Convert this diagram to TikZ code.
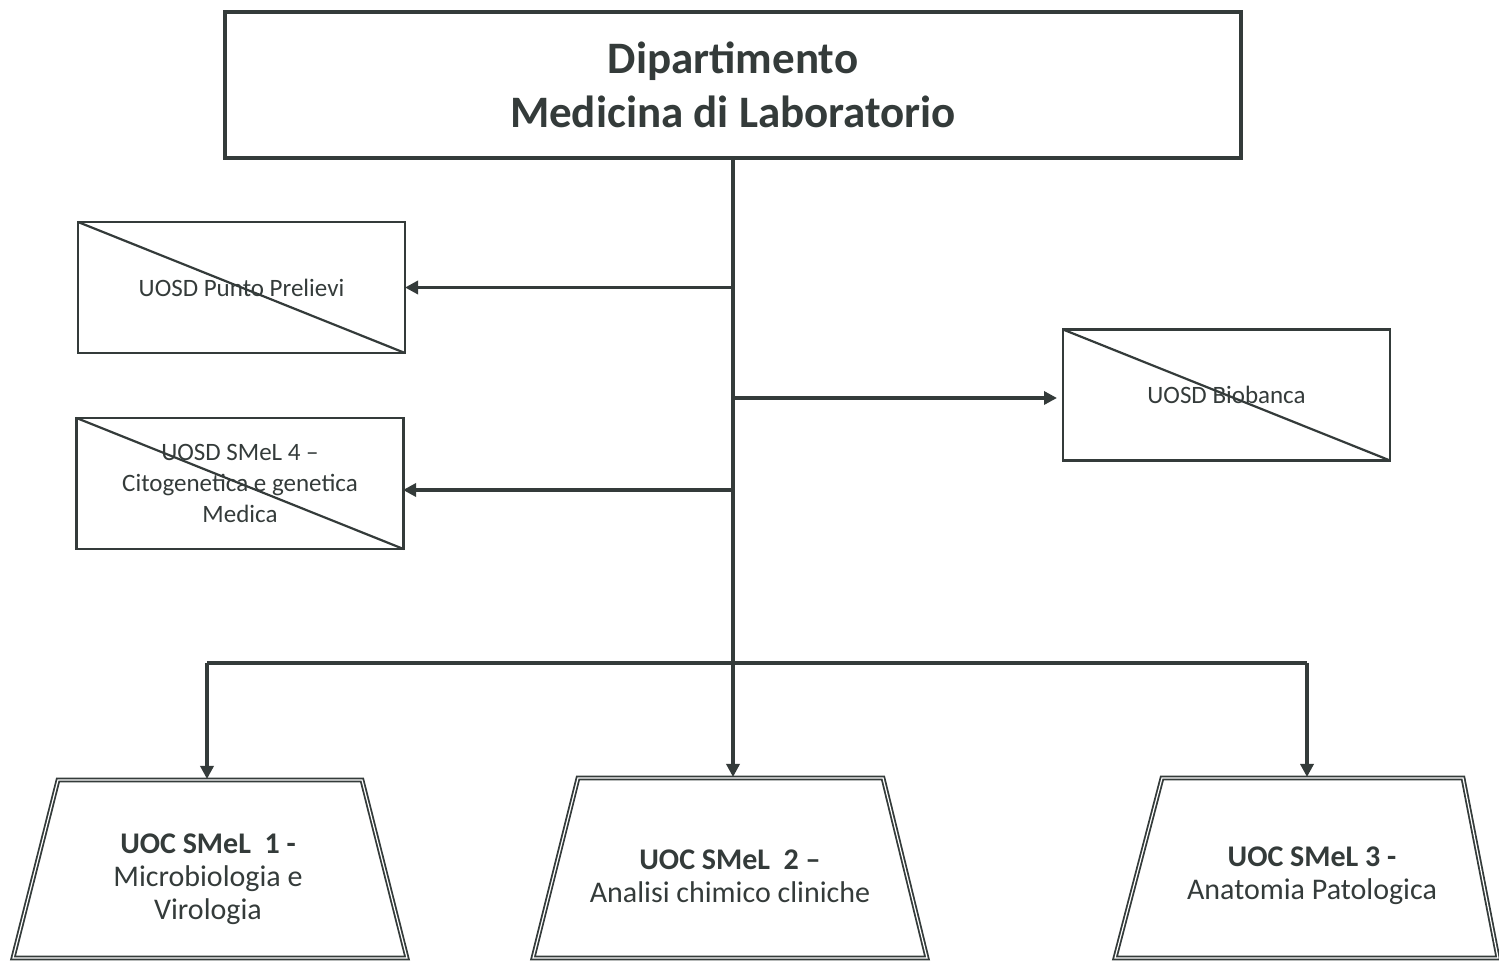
\documentclass[tikz,border=0pt]{standalone}
\usepackage{fontspec}
\setmainfont{Carlito}
\usetikzlibrary{arrows.meta}
\definecolor{ink}{HTML}{343B3A}
\begin{document}
\begin{tikzpicture}[x=0.5pt,y=-0.5pt,
  topbox/.style={draw=ink, line width=1.8pt, outer sep=0pt, inner sep=0pt, align=center, text=ink,
    font=\fontsize{22.5}{27}\selectfont\bfseries},
  ubox/.style={draw=ink, line width=1.4pt, outer sep=0pt, inner sep=0pt, align=center, text=ink,
    minimum width=163.5pt, minimum height=65.5pt, font=\fontsize{12.5}{15.5}\selectfont},
  cross/.style={draw=ink, line width=1.1pt},
  trap/.style={draw=ink, line width=0.9pt, double=white, double distance=0.6pt, line join=miter},
  traptext/.style={align=center, text=ink, inner sep=0pt, font=\fontsize{15}{16.4}\selectfont},
  wire/.style={draw=ink, line width=1.7pt},
  conn/.style={draw=ink, line width=1.7pt, -{Triangle[length=6.5pt,width=6.5pt]}}
]
\useasboundingbox (0,0) rectangle (1499,961);

% top box
\node[topbox, minimum width=508pt, minimum height=73pt] (dip) at (733,85)
  {Dipartimento\\Medicina di Laboratorio};

% crossed boxes
\node[ubox] (pp) at (241.5,287.5) {UOSD Punto Prelievi};
\draw[cross] (pp.north west) -- (pp.south east);

\node[ubox] (sm4) at (240,483.5) {UOSD SMeL 4 --\\Citogenetica e genetica\\Medica};
\draw[cross] (sm4.north west) -- (sm4.south east);

\node[ubox] (bb) at (1226.5,395) {UOSD Biobanca};
\draw[cross] (bb.north west) -- (bb.south east);

% trapezoids
\draw[trap] (58,780) -- (362,780) -- (407,958) -- (13,958) -- cycle;
\draw[trap] (578,778) -- (883,778) -- (927,958) -- (533,958) -- cycle;
\draw[trap] (1162,778) -- (1463,778) -- (1498,958) -- (1115,958) -- cycle;

\node[traptext] (s1) at (208,879) {\textbf{UOC SMeL\ \ 1 -}\\Microbiologia e\\Virologia};
\node[traptext] (s2) at (730,876) {\textbf{UOC SMeL\ \ 2 --}\\Analisi chimico cliniche};
\node[traptext] (s3) at (1312,876) {\textbf{UOC SMeL 3 -}\\Anatomia Patologica};

\coordinate (t1top) at (207,779);
\coordinate (t2top) at (733,777);
\coordinate (t3top) at (1307,777);
\coordinate (busL) at (207,663);
\coordinate (busR) at (1307,663);
\coordinate (bbin) at (1063,398);
\coordinate (sm4in) at (403,490);

% connectors
\draw[conn] (dip.south) -- (t2top);
\draw[conn] (dip.south |- pp.east) -- (pp.east);
\draw[conn] (dip.south |- sm4in) -- (sm4in);
\draw[conn, shorten >=3pt] (dip.south |- bbin) -- (bbin);
\draw[wire] (busL) -- (busR);
\draw[conn] (busL) -- (t1top);
\draw[conn] (busR) -- (t3top);
\end{tikzpicture}
\end{document}
